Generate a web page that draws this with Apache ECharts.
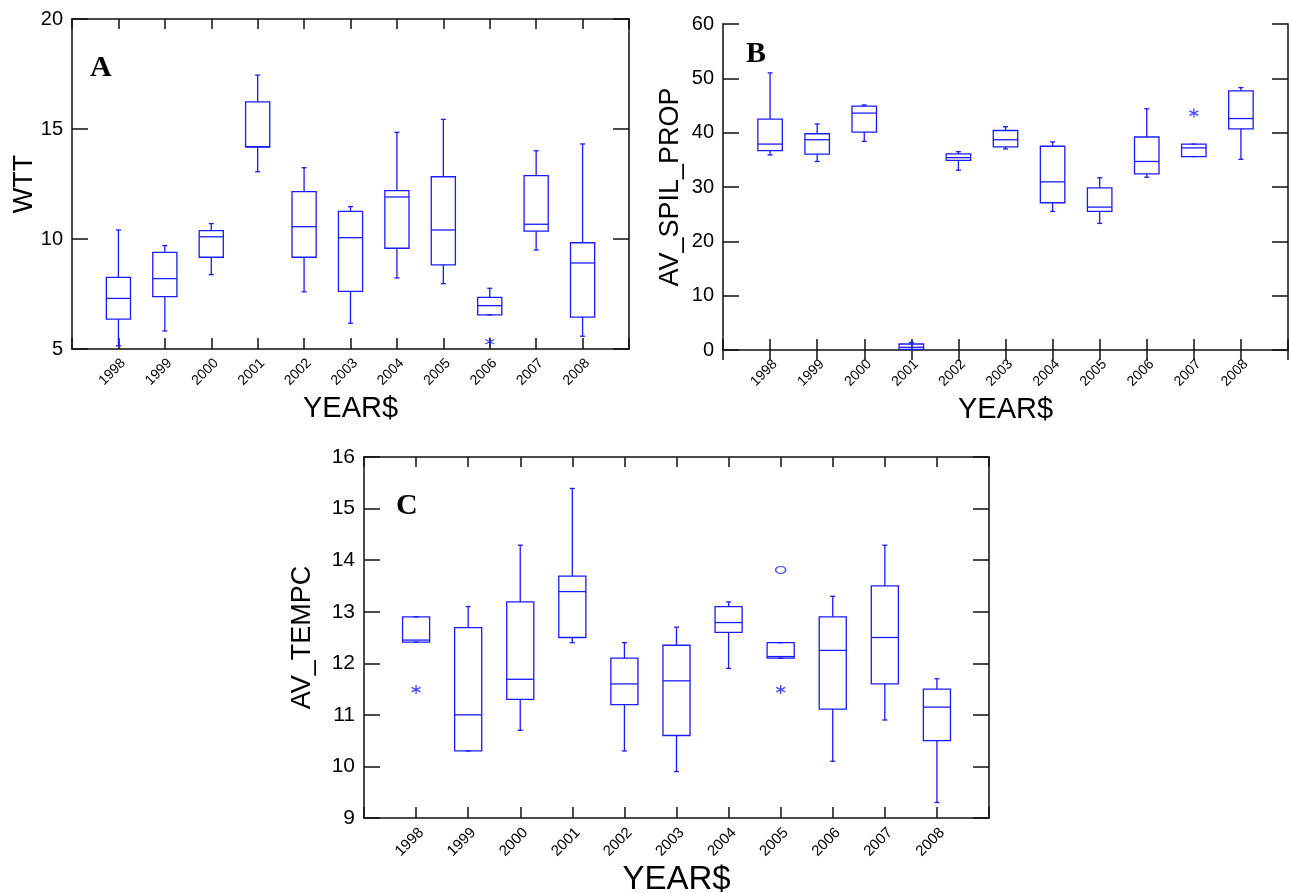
<!DOCTYPE html>
<html>
<head>
<meta charset="utf-8">
<title>WTT / AV_SPIL_PROP / AV_TEMPC by year</title>
<script src="https://cdn.jsdelivr.net/npm/echarts@6/dist/echarts.min.js"></script>
<style>
  html, body { margin: 0; padding: 0; background: #fff; }
  #chart { width: 1289px; height: 893px; }
</style>
</head>
<body>
<div id="chart"></div>
<script>
// years shown on every x axis
const years = ['1998', '1999', '2000', '2001', '2002', '2003', '2004', '2005', '2006', '2007', '2008']

// box stats per year: [low whisker, q1, median, q3, high whisker]
const wttStats = [
  [5.15, 6.36, 7.30, 8.26, 10.41],
  [5.82, 7.38, 8.20, 9.39, 9.70],
  [8.38, 9.17, 10.10, 10.38, 10.70],
  [13.06, 14.18, 14.20, 16.23, 17.45],
  [7.60, 9.17, 10.56, 12.15, 13.24],
  [6.17, 7.62, 10.06, 11.26, 11.47],
  [8.23, 9.58, 11.91, 12.20, 14.85],
  [7.97, 8.82, 10.41, 12.83, 15.44],
  [6.55, 6.55, 6.97, 7.35, 7.76],
  [9.50, 10.36, 10.67, 12.88, 14.01],
  [5.58, 6.45, 8.91, 9.83, 14.32]
]
const spilStats = [
  [35.9, 36.7, 37.9, 42.5, 51.0],
  [34.7, 36.05, 38.7, 39.8, 41.6],
  [38.4, 40.1, 43.6, 44.9, 45.1],
  [0.1, 0.1, 0.5, 1.1, 1.4],
  [33.1, 34.9, 35.4, 36.1, 36.5],
  [37.0, 37.4, 38.7, 40.4, 41.1],
  [25.5, 27.1, 30.95, 37.5, 38.3],
  [23.3, 25.5, 26.3, 29.85, 31.7],
  [31.8, 32.4, 34.7, 39.2, 44.4],
  [35.6, 35.6, 37.2, 37.9, 37.9],
  [35.1, 40.7, 42.6, 47.7, 48.3]
]
const tempStats = [
  [12.41, 12.41, 12.45, 12.90, 12.90],
  [10.30, 10.30, 11.00, 12.69, 13.10],
  [10.70, 11.30, 11.69, 13.19, 14.29],
  [12.40, 12.50, 13.39, 13.69, 15.39],
  [10.30, 11.20, 11.60, 12.10, 12.40],
  [9.90, 10.60, 11.66, 12.35, 12.70],
  [11.90, 12.60, 12.79, 13.10, 13.19],
  [12.10, 12.10, 12.13, 12.40, 12.40],
  [10.10, 11.11, 12.25, 12.90, 13.30],
  [10.90, 11.60, 12.50, 13.50, 14.29],
  [9.30, 10.50, 11.15, 11.50, 11.70]
]

// outside values: stars (*) and far outside (o)
const wttStars = [['2006', 5.33]]
const spilStars = [['2007', 43.6]]
const tempStars = [['1998', 11.49], ['2005', 11.49]]
const tempCircles = [['2005', 13.81]]

const BLUE = '#1a1aff'
const FRAME = '#4a4a4a'
const FONT = 'Liberation Sans'
const STAR = 'path://M5,0L5,10M0.7,2.5L9.3,7.5M0.7,7.5L9.3,2.5'

// pad one empty slot each side so years sit one step in from the frame
const axisCats = [''].concat(years, [''])

const chart = echarts.init(document.getElementById('chart'))

function boxItem (params, api) {
  const x = api.value(0)
  const low = api.coord([x, api.value(1)])
  const q1 = api.coord([x, api.value(2)])
  const med = api.coord([x, api.value(3)])
  const q3 = api.coord([x, api.value(4)])
  const high = api.coord([x, api.value(5)])
  const step = api.coord([x + 1, api.value(1)])[0] - low[0]
  const cx = low[0]
  const half = step * 0.26
  const cap = 2.5
  const style = { stroke: BLUE, fill: 'none', lineWidth: 1.3 }
  const line = (x1, y1, x2, y2) => ({ type: 'line', shape: { x1, y1, x2, y2 }, style })
  return {
    type: 'group',
    children: [
      { type: 'rect', shape: { x: cx - half, y: q3[1], width: half * 2, height: q1[1] - q3[1] }, style },
      line(cx - half, med[1], cx + half, med[1]),
      line(cx, q3[1], cx, high[1]),
      line(cx, q1[1], cx, low[1]),
      line(cx - cap, high[1], cx + cap, high[1]),
      line(cx - cap, low[1], cx + cap, low[1])
    ]
  }
}

function makeX (gridIndex, labelSize, nameSize, top) {
  if (top) {
    return {
      type: 'category',
      gridIndex,
      position: 'top',
      data: axisCats,
      boundaryGap: false,
      axisLine: { lineStyle: { color: FRAME, width: 2 } },
      axisTick: { inside: true, length: 10, interval: 0, lineStyle: { color: '#111', width: 1.5 } },
      axisLabel: { show: false }
    }
  }
  return {
    type: 'category',
    gridIndex,
    data: axisCats,
    boundaryGap: false,
    name: 'YEAR$',
    nameLocation: 'middle',
    nameGap: 45,
    nameMoveOverlap: false,
    nameTextStyle: { fontFamily: FONT, fontSize: nameSize, color: '#000' },
    axisLine: { lineStyle: { color: FRAME, width: 2 } },
    axisTick: { inside: true, length: 11, interval: 0, lineStyle: { color: '#111', width: 1.5 } },
    axisLabel: { interval: 0, rotate: 45, margin: 7, verticalAlign: 'top', fontFamily: FONT, fontSize: labelSize, color: '#000' }
  }
}

function makeY (gridIndex, min, max, interval, name, nameGap, labelSize, right) {
  const axis = {
    type: 'value',
    gridIndex,
    min,
    max,
    interval,
    splitLine: { show: false },
    axisLine: { show: true, lineStyle: { color: FRAME, width: 2 } },
    axisTick: { show: true, inside: true, length: 16, lineStyle: { color: '#111', width: 1.5 } }
  }
  if (right) {
    axis.position = 'right'
    axis.axisLabel = { show: false }
    return axis
  }
  axis.name = name
  axis.nameLocation = 'middle'
  axis.nameGap = nameGap
  axis.nameMoveOverlap = false
  axis.nameTextStyle = { fontFamily: FONT, fontSize: 27, color: '#000' }
  axis.axisLabel = { margin: 9, fontFamily: FONT, fontSize: labelSize, color: '#000' }
  return axis
}

function boxSeries (axisIndex, stats) {
  return {
    type: 'custom',
    xAxisIndex: axisIndex,
    yAxisIndex: axisIndex,
    renderItem: boxItem,
    encode: { x: 0, y: [1, 2, 3, 4, 5] },
    data: years.map((y, i) => [y].concat(stats[i])),
    z: 3
  }
}

function outlierSeries (axisIndex, points, circle) {
  return {
    type: 'scatter',
    xAxisIndex: axisIndex,
    yAxisIndex: axisIndex,
    symbol: circle ? 'circle' : STAR,
    symbolSize: circle ? [10, 7] : 9,
    itemStyle: { color: 'rgba(0,0,0,0)', borderColor: BLUE, borderWidth: 1.3 },
    data: points,
    z: 4
  }
}

chart.setOption({
  animation: false,
  backgroundColor: '#fff',
  grid: [
    { left: 72, top: 19, width: 557, height: 330, outerBoundsMode: 'none' },
    { left: 723, top: 24, width: 565, height: 326, outerBoundsMode: 'none' },
    { left: 364, top: 457, width: 625, height: 361, outerBoundsMode: 'none' }
  ],
  // indices 0-2: bottom axes used by the series, 3-5: top/right frame axes
  xAxis: [
    makeX(0, 14, 29),
    makeX(1, 14, 29),
    makeX(2, 15, 33),
    makeX(0, 0, 0, true),
    makeX(1, 0, 0, true),
    makeX(2, 0, 0, true)
  ],
  yAxis: [
    makeY(0, 5, 20, 5, 'WTT', 34, 20),
    makeY(1, 0, 60, 10, 'AV_SPIL_PROP', 39, 20),
    makeY(2, 9, 16, 1, 'AV_TEMPC', 48, 21),
    makeY(0, 5, 20, 5, '', 0, 0, true),
    makeY(1, 0, 60, 10, '', 0, 0, true),
    makeY(2, 9, 16, 1, '', 0, 0, true)
  ],
  graphic: [
    { type: 'text', style: { text: 'A', x: 90, y: 53, font: 'bold 30px "Liberation Serif"', fill: '#000', verticalAlign: 'top' } },
    { type: 'text', style: { text: 'B', x: 746, y: 39, font: 'bold 30px "Liberation Serif"', fill: '#000', verticalAlign: 'top' } },
    { type: 'text', style: { text: 'C', x: 396, y: 491, font: 'bold 30px "Liberation Serif"', fill: '#000', verticalAlign: 'top' } }
  ],
  series: [
    boxSeries(0, wttStats),
    boxSeries(1, spilStats),
    boxSeries(2, tempStats),
    outlierSeries(0, wttStars),
    outlierSeries(1, spilStars),
    outlierSeries(2, tempStars),
    outlierSeries(2, tempCircles, true)
  ]
})
</script>
</body>
</html>
